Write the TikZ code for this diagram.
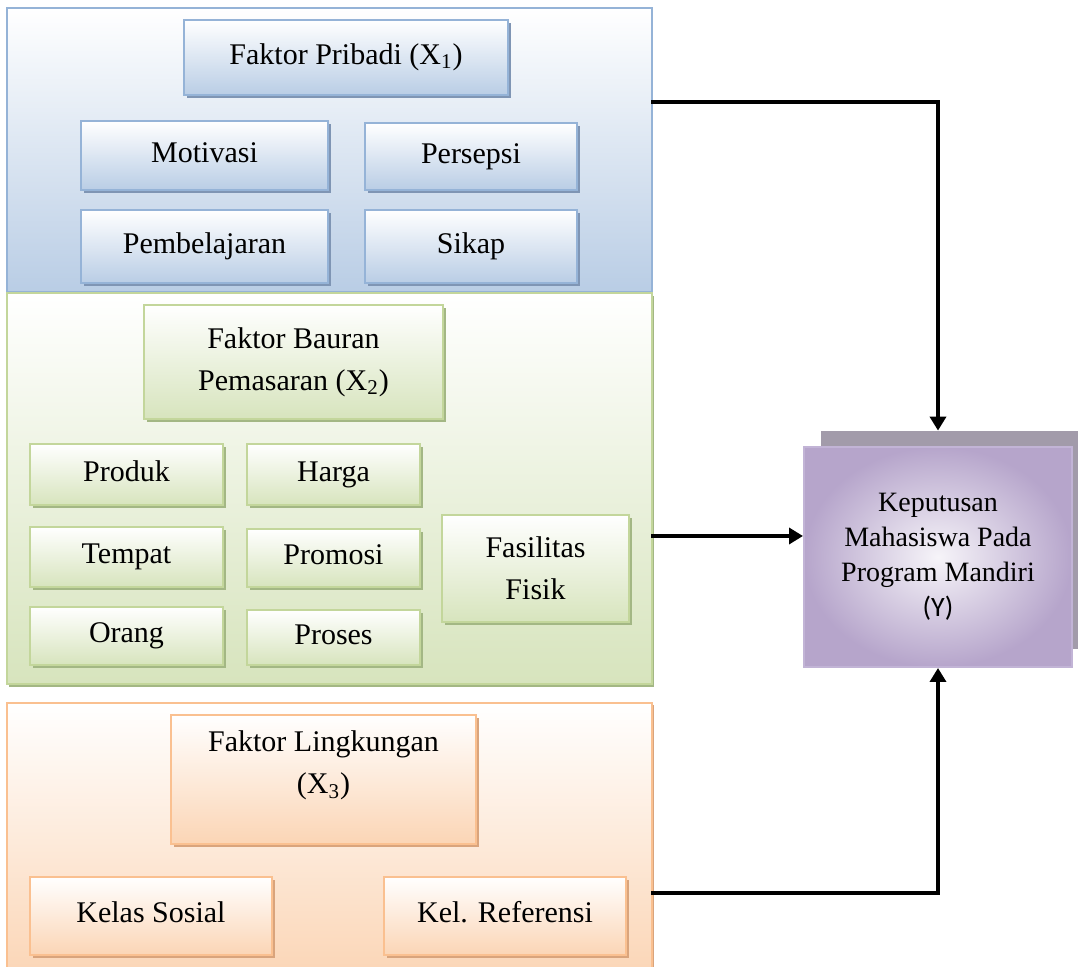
\documentclass[tikz,border=0pt]{standalone}
\usepackage{fontspec}
\setmainfont{Liberation Serif}
\newfontfamily\yfont{Carlito}
\usetikzlibrary{arrows.meta,shadows}
\definecolor{blueLine}{HTML}{95B3D7}
\definecolor{blueFill}{HTML}{B9CDE5}
\definecolor{blueShade}{HTML}{7F95B4}
\definecolor{greenLine}{HTML}{C3D69B}
\definecolor{greenFill}{HTML}{D7E4BD}
\definecolor{greenShade}{HTML}{A3B784}
\definecolor{orangeLine}{HTML}{FAC090}
\definecolor{orangeFill}{HTML}{FBD5B5}
\definecolor{orangeShade}{HTML}{D9A47C}
\definecolor{purpleLine}{HTML}{C2B4D6}
\definecolor{purpleFill}{HTML}{B6A5CB}
\definecolor{purpleBack}{HTML}{A29BAA}
\tikzset{
  box/.style={draw, line width=1.2pt, inner sep=2pt, align=center,
    font=\fontsize{15}{21}\selectfont},
  oneline/.style={text height=10.5pt, text depth=3.5pt},
  pnl/.style={draw, line width=1pt, top color=white},
  bluebox/.style={box, draw=blueLine, top color=white, bottom color=blueFill,
    general shadow={shadow xshift=1.5pt, shadow yshift=-1.5pt, fill=blueShade}},
  greenbox/.style={box, draw=greenLine, top color=white, bottom color=greenFill,
    general shadow={shadow xshift=1.5pt, shadow yshift=-1.5pt, fill=greenShade}},
  orangebox/.style={box, draw=orangeLine, top color=white, bottom color=orangeFill,
    general shadow={shadow xshift=1.5pt, shadow yshift=-1.5pt, fill=orangeShade}},
}
\begin{document}
\begin{tikzpicture}[x=0.5pt, y=-0.5pt, line cap=rect, >={Triangle[length=7pt,width=8pt]}]
	\useasboundingbox (0,0) rectangle (1078,967);
	% panels
	\node[pnl, draw=blueLine, bottom color=blueFill, minimum width=322.5pt, minimum height=142pt] (pnlPribadi) at (329.5,150) {};
	\node[pnl, draw=greenLine, bottom color=greenFill, minimum width=322.5pt, minimum height=195.5pt,
		general shadow={shadow xshift=1pt, shadow yshift=-1.5pt, fill=greenShade}] (pnlBauran) at (329.5,488.5) {};
	\node[pnl, draw=orangeLine, bottom color=orangeFill, minimum width=322.5pt, minimum height=138.5pt,
		general shadow={shadow xshift=1pt, shadow yshift=-1pt, fill=orangeShade}] (pnlLingk) at (329.5,841.5) {};
	% faktor pribadi
	\node[bluebox, oneline, minimum width=162pt, minimum height=37.5pt] (fPribadi) at (346,57.5) {Faktor Pribadi (X\textsubscript{1})};
	\node[bluebox, oneline, minimum width=123.5pt, minimum height=34.5pt] (motivasi) at (204.5,155.5) {Motivasi};
	\node[bluebox, oneline, minimum width=106pt, minimum height=33.5pt] (persepsi) at (471,156.5) {Persepsi};
	\node[bluebox, oneline, minimum width=123.5pt, minimum height=36.5pt] (pembelajaran) at (204.5,246.5) {Pembelajaran};
	\node[bluebox, oneline, minimum width=106pt, minimum height=36.5pt] (sikap) at (471,246.5) {Sikap};
	% faktor bauran pemasaran
	\node[greenbox, minimum width=149.5pt, minimum height=57pt] (fBauran) at (293.5,362) {Faktor Bauran\\Pemasaran (X\textsubscript{2})};
	\node[greenbox, oneline, minimum width=96.5pt, minimum height=30.5pt] (produk) at (126.5,474.5) {Produk};
	\node[greenbox, oneline, minimum width=86.5pt, minimum height=30.5pt] (harga) at (333.5,474.5) {Harga};
	\node[greenbox, oneline, minimum width=96.5pt, minimum height=30pt] (tempat) at (126.5,557) {Tempat};
	\node[greenbox, oneline, minimum width=86.5pt, minimum height=29pt] (promosi) at (333.5,558) {Promosi};
	\node[greenbox, oneline, minimum width=96.5pt, minimum height=29pt] (orang) at (126.5,636) {Orang};
	\node[greenbox, oneline, minimum width=86.5pt, minimum height=27.5pt] (proses) at (333.5,637.5) {Proses};
	\node[greenbox, minimum width=93.5pt, minimum height=53.5pt] (fasilitas) at (535.5,568.5) {Fasilitas\\Fisik};
	% faktor lingkungan
	\node[orangebox, text depth=17pt, minimum width=152.5pt, minimum height=64.5pt] (fLingk) at (323.5,779.5) {Faktor Lingkungan\\(X\textsubscript{3})};
	\node[orangebox, oneline, minimum width=121pt, minimum height=39pt] (kelas) at (151,916) {Kelas Sosial};
	\node[orangebox, oneline, minimum width=121pt, minimum height=39pt] (referensi) at (505,916) {Kel. Referensi};
	% keputusan
	\node[fill=purpleBack, minimum width=128.5pt, minimum height=109pt] (kepBack) at (949.5,540) {};
	\node[draw=purpleLine, line width=1pt, shading=radial, inner color=white!88!purpleFill, outer color=purpleFill,
		minimum width=134pt, minimum height=110pt, align=center, font=\fontsize{14}{17.5}\selectfont] (kep) at (938,557)
		{Keputusan\\Mahasiswa Pada\\Program Mandiri\\{\yfont (Y)}};
	% arrows
	\coordinate (rowA) at (0,102);
	\coordinate (rowB) at (0,536);
	\coordinate (rowC) at (0,893);
	\draw[->, line width=2pt] (pnlPribadi.east |- rowA) -| (kep.north |- kepBack.north);
	\draw[->, line width=2pt] (pnlBauran.east |- rowB) -- (kep.west |- rowB);
	\draw[->, line width=2pt] (pnlLingk.east |- rowC) -| (kep.south);
\end{tikzpicture}
\end{document}
